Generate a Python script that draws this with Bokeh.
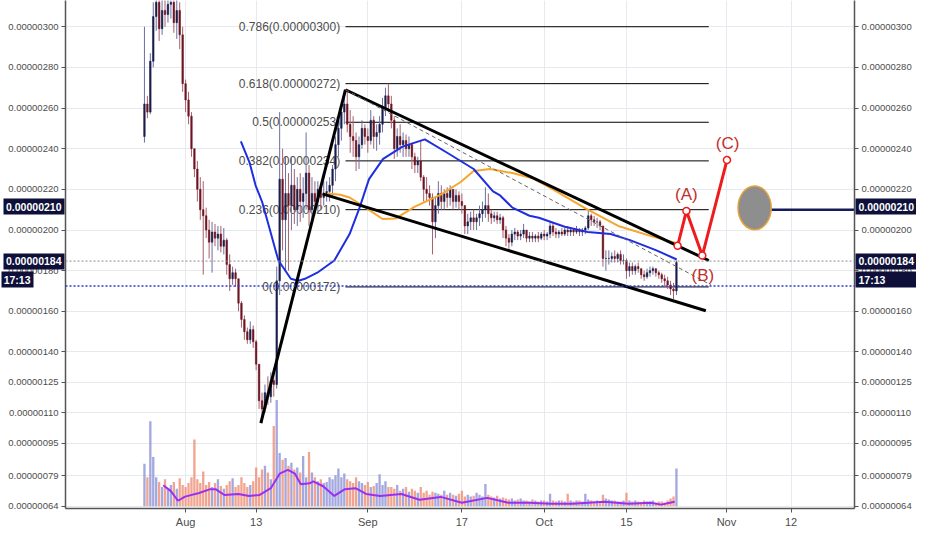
import pandas as pd
from bokeh.plotting import figure
from bokeh.models import (Range1d, LinearAxis, FixedTicker, CustomJSTickFormatter,
                          Span, ColumnDataSource)
from bokeh.embed import file_html
from bokeh.resources import INLINE
from bokeh.core.properties import value

# ---------------- data (prices in units of 1e-8, i.e. 262 -> 0.00000262) ----------------
BASE = pd.Timestamp("2018-08-01")
candle_start = pd.Timestamp("2018-07-25 00:00")
first_open = 246
highs = [300, 266, 287, 312, 318, 316, 314, 316, 318, 320, 316, 314, 312, 300, 274, 268, 258, 240, 234, 226,
         224, 211, 205, 204, 203, 202, 202, 201, 196, 188, 182, 181, 176, 165, 158, 152, 155, 153, 146, 134,
         120, 124, 128, 130, 132, 182, 258, 240, 236, 228, 236, 230, 226, 228, 226, 248, 232, 226, 224, 224,
         222, 224, 224, 226, 232, 246, 254, 262, 266, 269, 259, 256, 248, 246, 254, 252, 250, 259, 256, 252,
         256, 265, 270, 272, 266, 256, 250, 252, 248, 247, 246, 243, 238, 236, 244, 227, 226, 222, 218, 216,
         224, 222, 220, 221, 222, 220, 220, 219, 218, 212, 208, 209, 210, 208, 212, 214, 221, 218, 210, 209,
         209, 208, 207, 202, 198, 200, 201, 200, 200, 203, 200, 199, 199, 198, 199, 199, 200, 199, 204, 204,
         201, 200, 201, 201, 202, 201, 201, 202, 201, 201, 202, 210, 208, 207, 206, 205, 202, 190, 190, 189,
         190, 189, 190, 188, 186, 184, 184, 183, 184, 181, 180, 181, 182, 182, 181, 180, 179, 178, 177, 175,
         174, 185]
lows = [243, 255, 257, 280, 298, 293, 296, 300, 302, 304, 297, 294, 289, 268, 258, 252, 236, 226, 214, 205,
        178, 196, 186, 179, 192, 190, 189, 188, 178, 170, 173, 172, 160, 152, 146, 144, 144, 142, 131, 112,
        105, 110, 114, 115, 118, 122, 168, 190, 180, 180, 200, 203, 202, 204, 206, 210, 202, 203, 208, 208,
        210, 212, 214, 214, 216, 224, 236, 244, 252, 248, 238, 236, 229, 230, 240, 242, 238, 242, 240, 239,
        242, 248, 256, 258, 250, 235, 236, 238, 236, 236, 236, 230, 228, 228, 224, 214, 214, 212, 188, 196,
        208, 210, 210, 211, 212, 210, 211, 210, 208, 198, 198, 200, 200, 200, 202, 204, 206, 204, 203, 204,
        203, 203, 196, 192, 190, 192, 195, 195, 195, 196, 194, 194, 194, 194, 194, 195, 195, 195, 196, 197,
        196, 196, 197, 197, 197, 197, 197, 198, 197, 197, 198, 200, 202, 202, 201, 200, 182, 180, 183, 184,
        184, 184, 183, 183, 176, 177, 178, 178, 179, 176, 175, 176, 177, 178, 177, 176, 174, 172, 171, 168,
        166, 168]
closes = [262, 258, 283, 305, 312, 299, 308, 306, 311, 312, 302, 308, 296, 272, 264, 256, 240, 230, 220, 210,
          207, 200, 194, 199, 196, 198, 192, 195, 183, 176, 179, 176, 164, 156, 150, 146, 151, 145, 134, 116,
          112, 120, 118, 126, 124, 175, 225, 205, 218, 212, 222, 210, 220, 214, 218, 228, 210, 218, 214, 220,
          216, 218, 219, 222, 230, 242, 250, 258, 262, 252, 246, 244, 236, 242, 250, 246, 244, 254, 246, 248,
          252, 260, 266, 262, 254, 240, 246, 242, 244, 240, 242, 236, 232, 234, 226, 220, 218, 216, 204, 212,
          218, 214, 218, 216, 220, 214, 217, 214, 212, 202, 204, 206, 204, 206, 208, 210, 212, 208, 206, 207,
          205, 206, 200, 196, 194, 198, 199, 197, 198, 200, 196, 197, 196, 197, 196, 198, 197, 198, 202, 199,
          198, 199, 198, 200, 199, 200, 199, 200, 199, 200, 201, 207, 205, 204, 204, 202, 186, 186, 186, 187,
          186, 188, 185, 185, 180, 182, 180, 182, 181, 178, 177, 179, 180, 181, 179, 178, 176, 175, 173, 171,
          170, 184]
volumes = [44, 30, 88, 51, 30, 25, 20, 28, 18, 22, 25, 18, 29, 22, 20, 24, 30, 69, 28, 24,
           36, 22, 25, 20, 24, 28, 21, 18, 22, 26, 29, 20, 22, 30, 24, 20, 22, 26, 40, 30,
           38, 42, 35, 28, 83, 110, 55, 48, 50, 42, 45, 38, 40, 35, 52, 30, 56, 35, 30, 26,
           28, 24, 25, 30, 28, 32, 39, 30, 34, 28, 26, 24, 30, 26, 24, 22, 25, 20, 21, 24,
           33, 22, 26, 20, 20, 18, 22, 16, 18, 20, 15, 18, 16, 14, 20, 14, 16, 12, 15, 14,
           13, 12, 16, 12, 14, 12, 11, 13, 16, 10, 12, 10, 11, 14, 12, 10, 23, 12, 10, 9,
           11, 8, 9, 8, 7, 8, 6, 7, 8, 6, 6, 5, 7, 6, 5, 6, 6, 5, 13, 6,
           5, 6, 6, 5, 13, 6, 5, 6, 6, 5, 13, 7, 6, 5, 6, 5, 12, 8, 7, 6,
           6, 5, 5, 6, 14, 6, 5, 6, 5, 4, 6, 5, 5, 6, 4, 5, 5, 4, 6, 8,
           10, 39]
vol_ma_days = [-3.8, -2.5, -1.3, -0.1, 2.3, 4.2, 5.1, 6.6, 9.0, 10.8, 12.6, 14.5, 16.0, 17.4, 18.6, 19.6,
               21.1, 21.7, 23.4, 25.3, 27.1, 28.9, 30.7, 33.1, 36.7, 39.8, 43.4, 47.0, 51.3, 54.9, 58.5,
               62.1, 65.8, 71.2, 75.4, 79.1, 80.9, 83.2]
vol_ma = [21.7, 15.7, 5.7, 10, 13.7, 17.7, 17.7, 11.7, 12.7, 10.7, 11.7, 18.7, 33.7, 37.7, 33.7, 22.7,
          23.7, 25.7, 20.7, 10.7, 17.7, 18.7, 12.7, 10.7, 12.7, 6.7, 9.7, 3.7, 8.7, 3.7, 3.7,
          2.7, 2.7, 4.7, 2.7, 3.7, 1.7, 4.7]
blue_ma_days = [9.4, 10.9, 11.9, 13.0, 14.2, 15.3, 15.8, 17.9, 19.2, 20.3, 22.4, 25.3, 27.9, 29.6, 31.2,
                33.6, 36.9, 40.7, 44.5, 49.0, 52.3, 53.5, 55.6, 58.5, 60.1, 64.5, 68.4, 72.3, 75.6, 80.1, 83.55]
blue_ma = [243.6, 233, 222, 214, 201.6, 190, 185, 176, 175, 176, 179, 185, 198, 211, 225,
           235, 241, 244.6, 238, 230, 219, 217, 211, 207, 206, 201.6, 199, 198, 195, 190, 185.5]
orange_ma_days = [24.1, 26.3, 27.9, 30.4, 33.5, 35.7, 39.0, 43.5, 46.8, 49.0, 51.8, 55.6, 59.0, 62.5,
                  68.1, 73.6, 79.2, 83.55]
orange_ma = [218, 217.3, 216, 211.5, 205.4, 205.6, 211.5, 217.5, 223.6, 229, 230, 228, 225.5, 220,
             210.5, 202, 197, 193.5]

fib_ratios = ["0.786", "0.618", "0.5", "0.382", "0.236", "0"]
fib_prices = [300, 272, 253, 234, 210, 172]
fib_days = [27.2, 89.0]

trend_days = [[12.8, 27.2], [27.2, 89.0], [23.3, 88.5]]
trend_prices = [[105, 269], [269, 185], [217.8, 160.3]]
dash_days = [27.2, 89.4]
dash_prices = [269, 172.9]

wave_days = [83.7, 85.2, 87.9, 92.1]
wave_prices = [192.2, 209.4, 187.4, 234.4]
wave_labels = ["(A)", "(B)", "(C)"]
wave_label_days = [85.2, 88.0, 92.2]
wave_label_prices = [217.3, 177.7, 242.7]

target_day, target_price, target_w_days, target_h = 96.8, 210.9, 5.65, 21.5
target_line_days = [99.6, 125.0]
target_level = 210

last_price = 184.7
marked_level = 172.4
badge_texts = ["0.00000210", "0.00000184", "17:13"]
badge_prices = [211.4, 184.6, 175.5]
price_ticks = [64, 79, 95, 110, 125, 140, 160, 180, 200, 220, 240, 260, 280, 300]
date_ticks = ["2018-08-01", "2018-08-13", "2018-09-01", "2018-09-17", "2018-10-01",
              "2018-10-15", "2018-11-01", "2018-11-12"]
date_tick_labels = ["Aug", "13", "Sep", "17", "Oct", "15", "Nov", "12"]

# ---------------- helpers ----------------
def day(d):
    return BASE + pd.Timedelta(days=d)

def ms(t):
    return (pd.Timestamp(t) - pd.Timestamp("1970-01-01")).total_seconds() * 1000.0

HOUR = 3600 * 1000.0
NAVY = "#0e103a"
x_start = day(-20.43)
x_end = day(113.79)

n = len(closes)
times = [candle_start + pd.Timedelta(hours=12 * i) for i in range(n)]
opens = [first_open] + closes[:-1]
up = [c >= o for o, c in zip(opens, closes)]
src = ColumnDataSource(dict(
    t=times, o=opens, h=highs, l=lows, c=closes,
    top=[max(o, c) for o, c in zip(opens, closes)],
    bot=[min(o, c) for o, c in zip(opens, closes)],
    body=["#1b1e4b" if u else "#6e1523" for u in up],
    wick=["#6a6fa0" if u else "#a8606a" for u in up],
    vcol=["#8c92d6" if u else "#ee8f75" for u in up],
    v=volumes,
))

p = figure(width=916, height=534, x_axis_type="datetime",
           x_range=Range1d(x_start, x_end), y_range=Range1d(63.0, 312.9),
           toolbar_location=None, output_backend="svg",
           min_border_left=0, min_border_right=0, min_border_top=0, min_border_bottom=26)
p.outline_line_color = None
p.background_fill_color = "white"
p.extra_y_ranges = {"vol": Range1d(-2.3, 523)}

# ---- axes ----
tick_fmt = CustomJSTickFormatter(code="return (tick/1e8).toFixed(8);")
date_ms = [ms(d) for d in date_ticks]
p.xaxis.ticker = FixedTicker(ticks=date_ms)
p.xaxis.formatter = CustomJSTickFormatter(args=dict(dvals=date_ms, dnames=date_tick_labels), code="""
for (let i = 0; i < dvals.length; i++) { if (Math.abs(tick - dvals[i]) < 60000) return dnames[i]; }
return "";
""")
p.yaxis.ticker = FixedTicker(ticks=price_ticks)
p.yaxis.formatter = tick_fmt
right = LinearAxis(ticker=FixedTicker(ticks=price_ticks), formatter=tick_fmt)
p.add_layout(right, "right")
for ax in [p.xaxis[0], p.yaxis[0], right]:
    ax.axis_line_color = "#555555"
    ax.axis_line_width = 1.5
    ax.major_tick_line_color = "#555555"
    ax.major_tick_out = 4
    ax.major_tick_in = 0
    ax.minor_tick_line_color = None
    ax.major_label_text_color = "#4d4d4d"
    ax.major_label_text_font = "Liberation Sans"
    ax.major_label_text_font_size = "9.5px"
    ax.major_label_standoff = 3
p.xaxis.major_label_text_font_size = "11px"

# price badges: extra axes whose thick inward ticks form the dark boxes
def badge_fmt(vals, texts):
    return CustomJSTickFormatter(args=dict(bvals=vals, btxt=texts), code="""
for (let i = 0; i < bvals.length; i++) { if (Math.abs(tick - bvals[i]) < 0.01) return btxt[i]; }
return "";
""")

def badge_axis(vals, texts, tick_in, standoff):
    ax = LinearAxis(ticker=FixedTicker(ticks=vals), formatter=badge_fmt(vals, texts))
    ax.axis_line_color = None
    ax.minor_tick_line_color = None
    ax.major_tick_line_color = NAVY
    ax.major_tick_line_width = 16
    ax.major_tick_line_cap = "butt"
    ax.major_tick_in = tick_in
    ax.major_tick_out = 2
    ax.major_label_standoff = standoff
    ax.major_label_text_color = "white"
    ax.major_label_text_font = "Liberation Sans"
    ax.major_label_text_font_style = "bold"
    ax.major_label_text_font_size = "10.5px"
    return ax

p.add_layout(badge_axis(badge_prices[:2], badge_texts[:2], 59, -58), "left")
p.add_layout(badge_axis(badge_prices[2:], badge_texts[2:], 30, -29), "left")
p.add_layout(badge_axis(badge_prices, badge_texts, 59, -58), "right")

p.xgrid.ticker = FixedTicker(ticks=date_ms)
p.ygrid.ticker = FixedTicker(ticks=price_ticks)
p.xgrid.grid_line_color = "#e6e9ee"
p.ygrid.grid_line_color = "#e6e9ee"

# ---- volume ----
p.vbar(x="t", width=9.5 * HOUR, top="v", bottom=0, source=src, y_range_name="vol",
       fill_color="vcol", line_color=None, fill_alpha=0.8)
p.line([day(d) for d in vol_ma_days], vol_ma, y_range_name="vol", color="#9b2ff0", line_width=2)

# ---- fib levels ----
for r, fp in zip(fib_ratios, fib_prices):
    p.line([day(fib_days[0]), day(fib_days[1])], [fp, fp], color="black", line_width=1)
p.text(x=[day(26.3)] * len(fib_prices), y=fib_prices,
       text=[f"{r}({fp / 1e8:.8f})" for r, fp in zip(fib_ratios, fib_prices)],
       text_font=value("Liberation Sans"), text_font_size="12px", text_align="right",
       text_baseline="middle", text_color="#4d4d4d")

# ---- candles ----
p.segment(x0="t", y0="h", x1="t", y1="l", source=src, line_color="wick", line_width=1)
p.vbar(x="t", width=6.5 * HOUR, top="top", bottom="bot", source=src,
       fill_color="body", line_color="body", line_width=0.5)

# ---- moving averages ----
p.line([day(d) for d in orange_ma_days], orange_ma, color="#f6a52e", line_width=2)
p.line([day(d) for d in blue_ma_days], blue_ma, color="#1f2ee0", line_width=2)

# ---- levels ----
p.add_layout(Span(location=last_price, dimension="width", line_color="#8a8a8a",
                  line_dash="2 2", line_width=1))
p.add_layout(Span(location=marked_level, dimension="width", line_color="#2b3bd6",
                  line_dash="2 2", line_width=1.5))

# ---- trend lines ----
for td, tp in zip(trend_days, trend_prices):
    p.line([day(d) for d in td], tp, color="black", line_width=3)
p.line([day(d) for d in dash_days], dash_prices, color="#666666", line_width=1, line_dash="4 3")

# ---- wave projection ----
p.line([day(d) for d in wave_days], wave_prices, color="#ee1c1c", line_width=3)
p.scatter([day(d) for d in wave_days], wave_prices, size=7, fill_color="white",
          line_color="#ee1c1c", line_width=1.5)
p.text(x=[day(d) for d in wave_label_days], y=wave_label_prices, text=wave_labels,
       text_font=value("Liberation Sans"), text_font_size="17px", text_align="center",
       text_baseline="middle", text_color="#c2302c")

# ---- target ----
p.line([day(d) for d in target_line_days], [target_level] * 2, color="#161c5a", line_width=2.5)
p.ellipse(x=[day(target_day)], y=[target_price], width=target_w_days * 24 * HOUR,
          height=target_h, fill_color="#8e8e8e", line_color="#e8a23a", line_width=1.5)

open("out.html", "w").write(file_html(p, INLINE))
